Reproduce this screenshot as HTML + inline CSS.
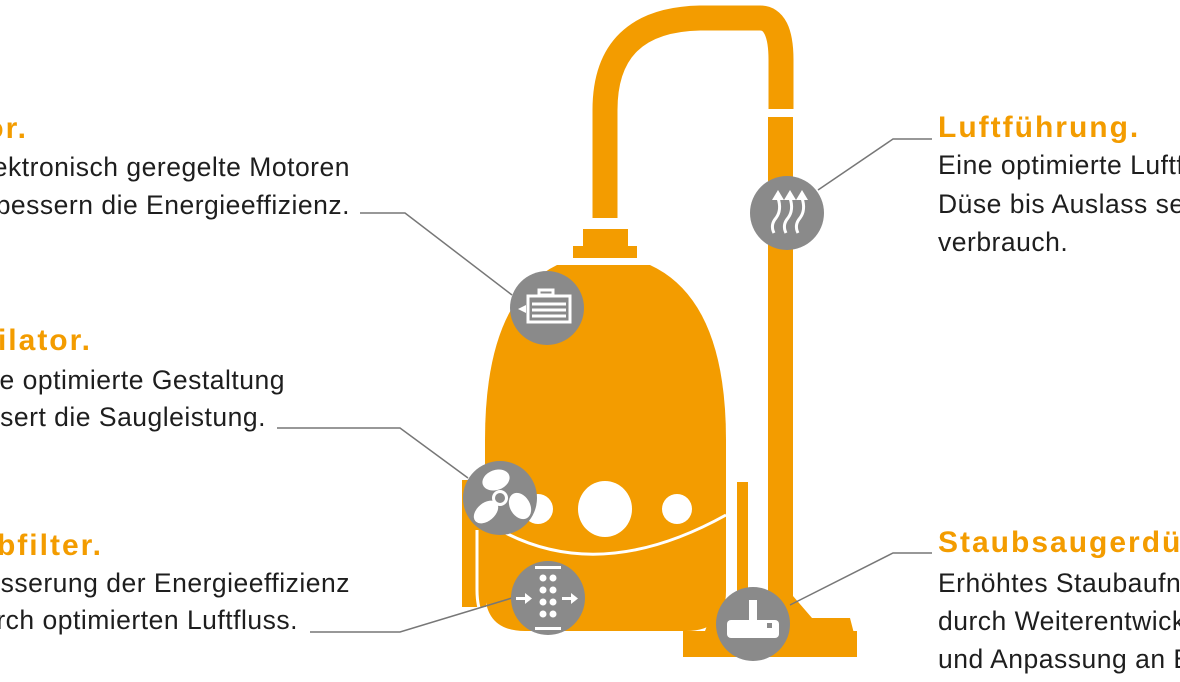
<!DOCTYPE html>
<html><head><meta charset="utf-8"><style>
html,body{margin:0;padding:0;background:#fff;}
svg{display:block}
text{font-family:"Liberation Sans",sans-serif;}
.t{fill:#f39c00;font-weight:bold;font-size:30px;letter-spacing:2px}
.b{fill:#1e1e1e;font-size:26.5px;letter-spacing:0.5px}
</style></head><body>
<svg width="1180" height="682" viewBox="0 0 1180 682" xmlns="http://www.w3.org/2000/svg">
<path d="M605 218 V110 Q605 20 700 18 L760 18 Q781 18 781 60 V109" fill="none" stroke="#f39c00" stroke-width="25"/>
<rect x="768" y="117" width="25" height="480" fill="#f39c00"/>
<rect x="583" y="229" width="45" height="20" fill="#f39c00"/>
<rect x="573" y="246" width="64" height="12" fill="#f39c00"/>
<rect x="462" y="480" width="24" height="127" fill="#f39c00"/>
<path d="M557 265 H650 Q726 300 726 440 V591 Q726 631 686 631 H525 Q485 631 485 591 V440 Q485 300 557 265 Z" fill="#f39c00"/>
<path d="M477 530 V590 Q477 640 527 640" fill="none" stroke="#fff" stroke-width="3"/>
<path d="M500 530 Q600 585 726 515" fill="none" stroke="#fff" stroke-width="3"/>
<ellipse cx="605" cy="509" rx="27" ry="28" fill="#fff"/>
<circle cx="677" cy="509" r="15" fill="#fff"/>
<circle cx="538" cy="509" r="15" fill="#fff"/>
<rect x="737" y="482" width="11" height="138" fill="#f39c00"/>
<path d="M768 596 H793 L812 618 H850 L857 645 H683 V631 H705 L710 618 H768 Z" fill="#f39c00"/>
<rect x="683" y="631" width="174" height="26" fill="#f39c00"/>
<g fill="none" stroke="#777" stroke-width="1.5">
<polyline points="360,213 405,213 512,295"/>
<polyline points="277,428 400,428 468,478"/>
<polyline points="310,632 400,632 512,598"/>
<polyline points="818,190 893,139 932,139"/>
<polyline points="790,605 893,553 932,553"/>
</g>
<g fill="#8a8a8a">
<circle cx="547" cy="308" r="37"/>
<circle cx="787" cy="213" r="37"/>
<circle cx="500" cy="498" r="37"/>
<circle cx="548" cy="598" r="37"/>
<circle cx="753" cy="624" r="37"/>
</g>
<g fill="none" stroke="#fff" stroke-width="3">
<rect x="528" y="296" width="42" height="26"/>
<line x1="532" y1="304" x2="566" y2="304"/><line x1="532" y1="310" x2="566" y2="310"/><line x1="532" y1="316" x2="566" y2="316"/>
<rect x="539" y="290" width="14" height="5"/>
</g>
<path d="M518 309 L526 305 V313 Z" fill="#fff"/>
<g fill="none" stroke="#fff" stroke-width="3">
<path d="M774 233 Q770 225 776 218 Q782 210 778 198"/>
<path d="M786 233 Q782 225 788 218 Q794 210 790 198"/>
<path d="M798 233 Q794 225 800 218 Q806 210 802 198"/>
</g>
<g fill="#fff"><path d="M772 200 L778 190 L784 200Z"/><path d="M784 200 L790 190 L796 200Z"/><path d="M796 200 L802 190 L808 200Z"/></g>
<g fill="#fff">
<ellipse cx="496" cy="480" rx="14" ry="10" transform="rotate(-20 496 480)"/>
<ellipse cx="520" cy="506" rx="14" ry="10" transform="rotate(60 520 506)"/>
<ellipse cx="486" cy="512" rx="14" ry="9" transform="rotate(-40 486 512)"/>
<circle cx="500" cy="498" r="8"/>
</g>
<circle cx="500" cy="498" r="5" fill="#8a8a8a"/>
<g fill="#fff">
<rect x="535" y="566" width="26" height="3"/><rect x="535" y="627" width="26" height="3"/>
<circle cx="543" cy="578" r="3.5"/><circle cx="553" cy="578" r="3.5"/>
<circle cx="543" cy="590" r="3.5"/><circle cx="553" cy="590" r="3.5"/>
<circle cx="543" cy="602" r="3.5"/><circle cx="553" cy="602" r="3.5"/>
<circle cx="543" cy="614" r="3.5"/><circle cx="553" cy="614" r="3.5"/>
<rect x="516" y="597" width="10" height="3"/><path d="M525 593 L532 598.5 L525 604Z"/>
<rect x="562" y="597" width="10" height="3"/><path d="M571 593 L578 598.5 L571 604Z"/>
</g>
<g fill="#fff">
<rect x="727" y="620" width="52" height="18" rx="4"/>
<rect x="749" y="600" width="8" height="22"/>
</g>
<rect x="767" y="623" width="5" height="5" fill="#8a8a8a"/>
<g text-anchor="end">
<text class="t" x="28" y="138">Motor.</text>
<text class="b" x="350" y="176">Elektronisch geregelte Motoren</text>
<text class="b" x="350" y="214">verbessern die Energieeffizienz.</text>
<text class="t" x="92" y="350">Ventilator.</text>
<text class="b" x="285" y="389">Die optimierte Gestaltung</text>
<text class="b" x="266" y="426">verbessert die Saugleistung.</text>
<text class="t" x="103" y="555">Staubfilter.</text>
<text class="b" x="350" y="592">Verbesserung der Energieeffizienz</text>
<text class="b" x="298" y="629">durch optimierten Luftfluss.</text>
</g>
<text class="t" x="938" y="137">Luftführung.</text>
<text class="b" x="938" y="174">Eine optimierte Luftführung von</text>
<text class="b" x="938" y="213">Düse bis Auslass senkt den Energie-</text>
<text class="b" x="938" y="251">verbrauch.</text>
<text class="t" x="938" y="552">Staubsaugerdüse.</text>
<text class="b" x="938" y="592">Erhöhtes Staubaufnahmevermögen</text>
<text class="b" x="938" y="630">durch Weiterentwicklung</text>
<text class="b" x="938" y="668">und Anpassung an Bodenarten.</text>
</svg>
</body></html>
